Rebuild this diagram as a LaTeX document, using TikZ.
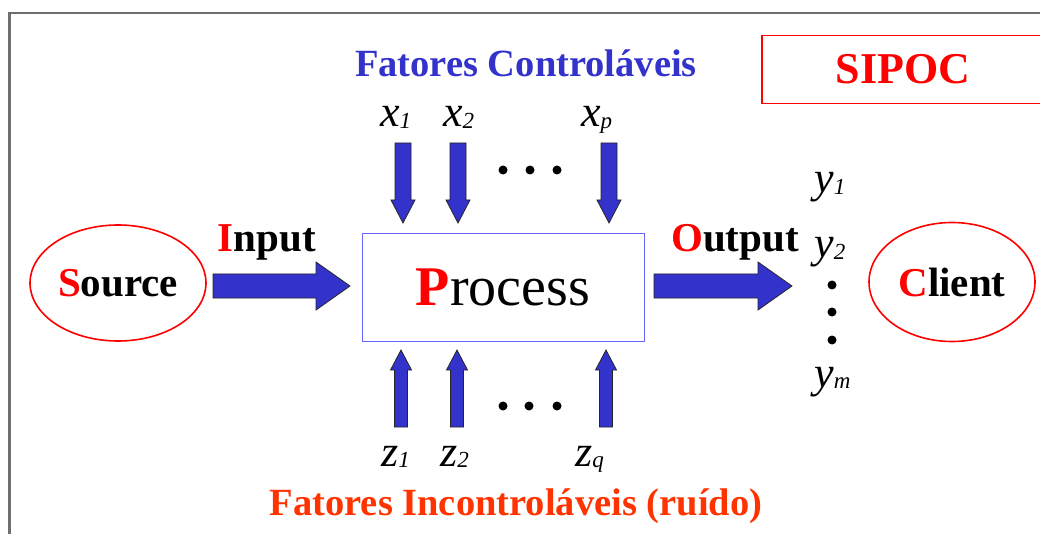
\documentclass[tikz,border=0pt]{standalone}
\usepackage{fontspec}
\setmainfont{Liberation Serif}
\usetikzlibrary{shapes,positioning,calc}

\definecolor{ctrlblue}{RGB}{51,51,204}
\definecolor{boxblue}{RGB}{102,102,255}
\definecolor{sipocred}{RGB}{255,0,0}
\definecolor{noisered}{RGB}{255,51,0}
\definecolor{framegray}{RGB}{110,110,110}

\newcommand\varlabel[2]{\textit{#1}\raisebox{-1.5pt}{\fontsize{23}{23}\selectfont\textit{#2}}}
\newcommand\firstred[2]{\textcolor{sipocred}{#1}#2}

\tikzset{
	fat arrow/.style n args={3}{draw=black!85, fill=ctrlblue, line width=0.8pt, line join=miter,
		to path={let \p1=($(\tikztotarget)!#3!(\tikztostart)$) in
			($(\tikztostart)!#1!90:(\tikztotarget)$) -- ($(\p1)!#1!90:(\tikztotarget)$)
			-- ($(\p1)!#2!90:(\tikztotarget)$) -- (\tikztotarget)
			-- ($(\p1)!#2!-90:(\tikztotarget)$) -- ($(\p1)!#1!-90:(\tikztotarget)$)
			-- ($(\tikztostart)!#1!-90:(\tikztotarget)$) -- cycle}},
	big arrow/.style={fat arrow={12pt}{24pt}{34pt}},
	down arrow/.style={fat arrow={8pt}{12pt}{23pt}},
	up arrow/.style={fat arrow={6.5pt}{10.5pt}{20pt}}
}

\begin{document}
\begin{tikzpicture}[x=1pt,y=-1pt,
		headline/.style={font=\fontsize{38.5}{42}\selectfont\bfseries},
		wordlabel/.style={font=\fontsize{41}{46}\selectfont\bfseries},
		varname/.style={font=\fontsize{44}{48}\selectfont, anchor=base west, inner sep=0pt},
		actor/.style={draw=sipocred, line width=1.6pt, ellipse, inner sep=0pt}]
		\useasboundingbox (0,0) rectangle (1040,534);

		% frame
		\draw[framegray, line width=2.5pt] (9.5,545) |- (1050,13);

		\node[headline, text=ctrlblue, anchor=base] (ctrl) at (526,77) {Fatores Controláveis};

		\node[draw=sipocred,
			line width=1.2pt,
			minimum width=282pt,
			minimum height=68pt,
			text=sipocred,
			font=\fontsize{44}{48}\selectfont\bfseries
		] (sipoc) at (903,69.5) {SIPOC};

		\node[actor,
			wordlabel,
			minimum width=176pt,
			minimum height=116pt
		] (source) at (118,283) {\firstred{S}{ource}};

		\node[draw=boxblue,
			line width=1pt,
			minimum width=282pt,
			minimum height=107pt,
			font=\fontsize{56}{60}\selectfont
		] (process) at (503,287.5) {\textcolor{sipocred}{\bfseries P}rocess};

		\node[actor,
			wordlabel,
			minimum width=166pt,
			minimum height=119pt
		] (client) at (952,282) {\firstred{C}{lient}};

		\node[wordlabel, anchor=base] (inlabel) at (267,252) {\firstred{I}{nput}};
		\node[wordlabel, anchor=base] (outlabel) at (735,252) {\firstred{O}{utput}};

		\coordinate (in-a) at (213,286);
		\coordinate (in-b) at (350,286);
		\coordinate (out-a) at (654,286);
		\coordinate (out-b) at (792,286);
		\draw[big arrow] (in-a) to (in-b);
		\draw[big arrow] (out-a) to (out-b);

		% controllable factors
		\node[varname] (x1) at (380,127) {\varlabel{x}{1}};
		\node[varname] (x2) at (443,127) {\varlabel{x}{2}};
		\node[varname] (xp) at (581,127) {\varlabel{x}{p}};
		\foreach \i/\xa in {1/403,2/458,p/609} {
			\coordinate (x\i-a) at (\xa,143);
			\coordinate (x\i-b) at (\xa,223);
			\draw[down arrow] (x\i-a) to (x\i-b);
		}
		\foreach \dx in {503,530,557}
			\fill (\dx,170) circle (4.5pt);

		% noise factors
		\foreach \i/\xa in {1/401,2/457,q/606} {
			\coordinate (z\i-a) at (\xa,427);
			\coordinate (z\i-b) at (\xa,350);
			\draw[up arrow] (z\i-a) to (z\i-b);
		}
		\foreach \dx in {503,529,557}
			\fill (\dx,406) circle (4.5pt);
		\node[varname] (z1) at (381,466) {\varlabel{z}{1}};
		\node[varname] (z2) at (440,466) {\varlabel{z}{2}};
		\node[varname] (zq) at (575,466) {\varlabel{z}{q}};

		% outputs
		\node[varname] (y1) at (814,193) {\varlabel{y}{1}};
		\node[varname] (y2) at (814,258) {\varlabel{y}{2}};
		\node[varname] (ym) at (814,387) {\varlabel{y}{m}};
		\foreach \dy in {285,312,340}
			\fill (832,\dy) circle (4.5pt);

		\node[headline, text=noisered, anchor=base] (noise) at (516,515) {Fatores Incontroláveis (ruído)};

	\end{tikzpicture}
\end{document}
